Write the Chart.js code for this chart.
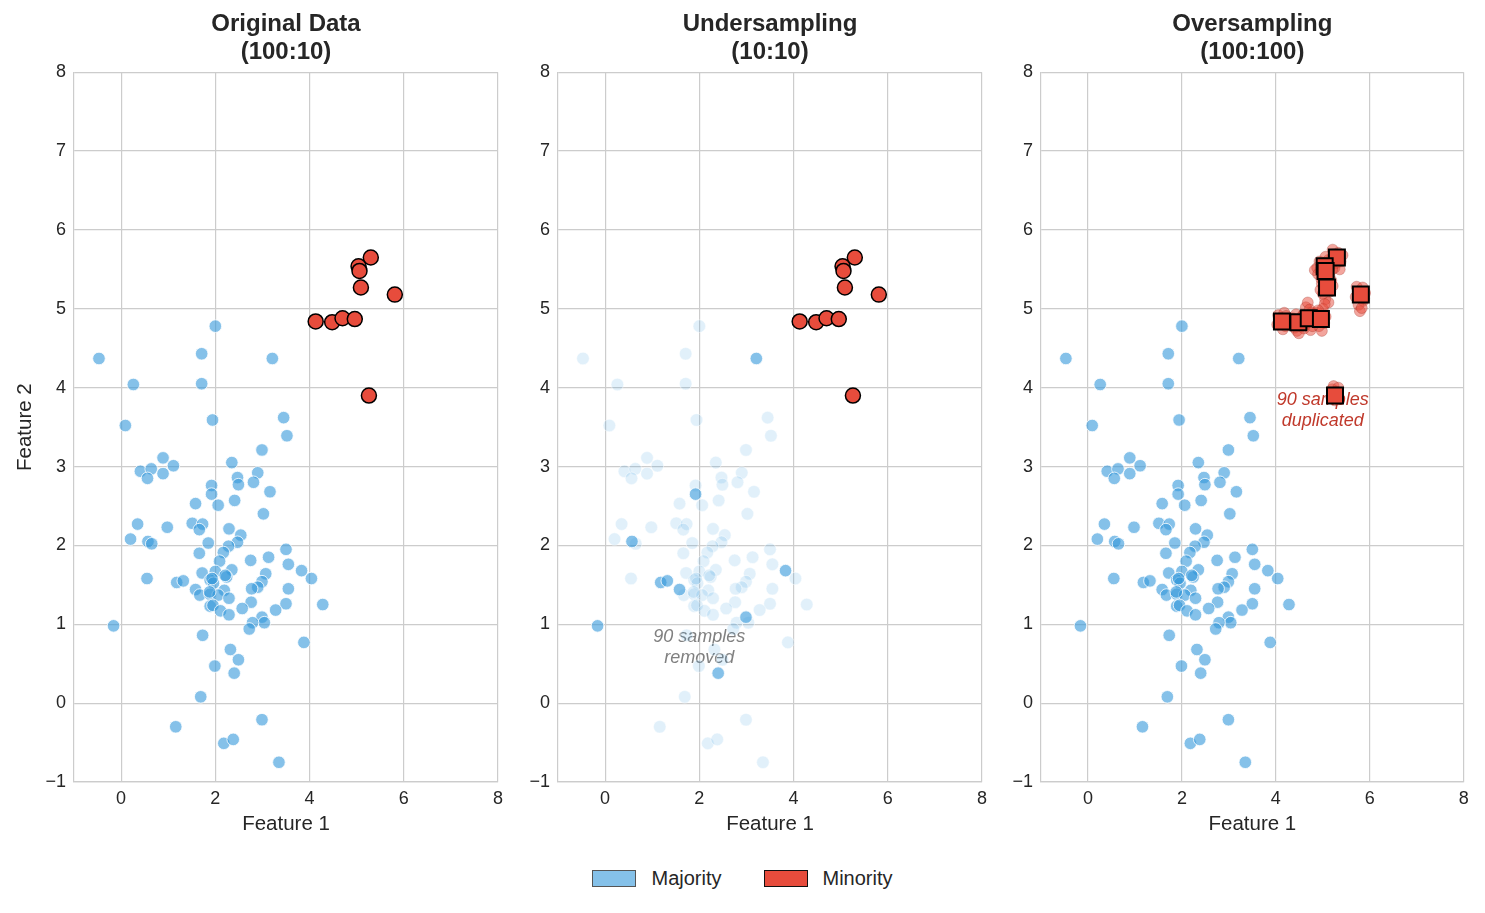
<!DOCTYPE html>
<html lang="en">
<head>
<meta charset="UTF-8">
<title>Original vs Undersampling vs Oversampling</title>
<script src="https://cdn.jsdelivr.net/npm/chart.js"></script>
<style>
  body { margin: 0; background: #fff; font-family: "Liberation Sans", Arial, sans-serif; }
  .panel { position: absolute; top: 0; width: 510px; height: 842px; }
  #legend { position: absolute; top: 867px; left: 0; width: 1485px; display: flex; justify-content: center; align-items: center; font-size: 20px; color: #262626; }
  .item { display: flex; align-items: center; margin: 0 21px; }
  .patch { width: 42px; height: 15px; margin-right: 15px; }
</style>
</head>
<body>
  <div class="panel" style="left:0px"><canvas id="c1"></canvas></div>
  <div class="panel" style="left:484px"><canvas id="c2"></canvas></div>
  <div class="panel" style="left:967px"><canvas id="c3"></canvas></div>
  <div id="legend">
    <div class="item"><div class="patch" style="background:#85c1e9;border:1.5px solid #555"></div>Majority</div>
    <div class="item"><div class="patch" style="background:#e74c3c;border:1.5px solid #111"></div>Minority</div>
  </div>

<script>
const xTicks = [0, 2, 4, 6, 8];
const yTicks = [-1, 0, 1, 2, 3, 4, 5, 6, 7, 8];

// majority class (100 points)
const majX = [-0.47, 2.00, 1.71, 3.21, 0.26, 1.71, 0.09, 1.94, 3.45, 3.52,
  2.99, 0.89, 1.11, 0.41, 0.64, 0.56, 0.89, 2.35, 2.90, 2.47,
  2.49, 2.81, 1.92, 1.92, 3.16, 1.58, 2.06, 2.41, 3.02, 0.35,
  0.98, 1.51, 1.73, 1.66, 2.29, 2.54, 2.47, 0.20, 0.57, 0.65,
  1.85, 2.28, 2.17, 1.66, 3.50, 2.09, 2.75, 3.13, 3.55, 1.72,
  2.00, 2.35, 2.24, 3.07, 0.55, 1.18, 1.32, 1.89, 1.96, 2.99,
  2.90, 2.77, 3.55, 1.58, 2.19, 1.67, 1.89, 2.06, 2.29, 2.76,
  3.50, 1.89, 1.95, 2.11, 2.29, 2.57, 3.28, 2.99, 3.04, 2.79,
  2.72, -0.16, 1.73, 2.32, 2.49, 1.99, 2.40, 1.69, 1.16, 2.99,
  2.18, 2.38, 3.35, 3.83, 4.04, 4.28, 3.88, 1.93, 2.21, 1.88];
const majY = [4.37, 4.78, 4.43, 4.37, 4.04, 4.05, 3.52, 3.59, 3.62, 3.39,
  3.21, 3.11, 3.01, 2.94, 2.97, 2.85, 2.91, 3.05, 2.92, 2.86,
  2.77, 2.80, 2.76, 2.65, 2.68, 2.53, 2.51, 2.57, 2.40, 2.27,
  2.23, 2.28, 2.27, 2.20, 2.21, 2.13, 2.04, 2.08, 2.05, 2.02,
  2.03, 1.99, 1.91, 1.90, 1.95, 1.80, 1.81, 1.85, 1.76, 1.65,
  1.67, 1.69, 1.60, 1.64, 1.58, 1.53, 1.55, 1.56, 1.52, 1.54,
  1.47, 1.45, 1.45, 1.44, 1.43, 1.37, 1.38, 1.37, 1.33, 1.28,
  1.26, 1.23, 1.24, 1.17, 1.12, 1.20, 1.18, 1.09, 1.02, 1.02,
  0.94, 0.98, 0.86, 0.68, 0.55, 0.47, 0.38, 0.08, -0.30, -0.21,
  -0.51, -0.46, -0.75, 1.68, 1.58, 1.25, 0.77, 1.58, 1.62, 1.41];

// minority class (10 points)
const minX = [5.30, 5.04, 5.06, 5.09, 5.81, 4.13, 4.48, 4.70, 4.96, 5.26];
const minY = [5.65, 5.54, 5.48, 5.27, 5.18, 4.84, 4.83, 4.88, 4.87, 3.90];

// majority points kept by undersampling (indices into majX / majY)
const keptIdx = [3, 23, 38, 55, 56, 63, 77, 81, 86, 93];

// duplicated minority points shown in the oversampling panel (90)
const dupX = [5.21, 5.38, 5.25, 5.33, 5.19, 5.42, 5.28, 5.36, 5.23,
  4.93, 5.10, 4.98, 5.12, 4.88, 5.06, 4.95, 5.15, 5.01,
  4.97, 5.14, 4.83, 5.02, 5.18, 4.90, 5.09, 5.20, 4.99,
  5.00, 5.16, 4.98, 5.13, 5.05, 5.21, 5.02, 5.12, 4.95,
  5.72, 5.86, 5.76, 5.90, 5.79, 5.85, 5.70, 5.83, 5.88,
  4.05, 4.20, 4.10, 4.18, 4.03, 4.15, 4.25, 4.08, 4.22,
  4.40, 4.55, 4.45, 4.52, 4.36, 4.60, 4.43, 4.57, 4.49,
  4.64, 4.76, 4.62, 4.74, 4.68, 4.80, 4.58, 4.72, 4.78,
  4.88, 5.03, 4.92, 5.00, 5.06, 4.85, 4.98, 5.04, 4.90,
  5.20, 5.31, 5.23, 5.29, 5.18, 5.33, 5.25, 5.22, 5.30];
const dupY = [5.75, 5.60, 5.52, 5.71, 5.63, 5.68, 5.58, 5.50, 5.69,
  5.60, 5.47, 5.45, 5.62, 5.52, 5.66, 5.50, 5.55, 5.41,
  5.38, 5.42, 5.49, 5.58, 5.36, 5.44, 5.33, 5.50, 5.53,
  5.19, 5.22, 5.32, 5.35, 5.12, 5.29, 5.40, 5.08, 5.24,
  5.28, 5.10, 5.05, 5.20, 4.97, 5.27, 5.15, 5.01, 5.13,
  4.92, 4.78, 4.88, 4.95, 4.80, 4.74, 4.87, 4.85, 4.91,
  4.76, 4.90, 4.72, 4.80, 4.88, 4.75, 4.93, 4.85, 4.69,
  5.02, 4.95, 4.80, 4.73, 5.08, 4.86, 4.92, 4.99, 4.78,
  4.95, 4.82, 4.78, 5.00, 4.90, 4.86, 4.72, 5.06, 4.98,
  3.98, 3.85, 4.02, 3.95, 3.88, 4.00, 3.84, 3.93, 3.91];

const FONT = '"Liberation Sans", Arial, sans-serif';
const TXT = '#262626';
const pts = (xs, ys) => xs.map((x, i) => ({ x, y: ys[i] }));

const majority = pts(majX, majY);
const minority = pts(minX, minY);
const kept = majority.filter((p, i) => keptIdx.includes(i));
const removed = majority.filter((p, i) => !keptIdx.includes(i));
const dups = pts(dupX, dupY);

const majStyle = { backgroundColor: 'rgba(52,152,219,0.6)', borderColor: '#ffffff', borderWidth: 0.8, pointRadius: 6.3 };
const minStyle = { backgroundColor: '#e74c3c', borderColor: '#000000', borderWidth: 1.5, pointRadius: 7.5 };

const tickFmt = v => v < 0 ? '\u2212' + Math.abs(v) : String(v);

function makeScales(yTitle) {
  return {
    x: {
      type: 'linear', min: -1, max: 8,
      afterBuildTicks: s => { s.ticks = xTicks.map(v => ({ value: v })); },
      afterFit: s => { s.height = 60; },
      grid: { color: '#cccccc', lineWidth: 1.2, drawTicks: false },
      border: { color: '#cccccc', width: 1.2 },
      ticks: { color: TXT, font: { family: FONT, size: 18 }, padding: 6, callback: tickFmt, maxRotation: 0 },
      title: { display: true, text: 'Feature 1', color: TXT, font: { family: FONT, size: 20.5 }, padding: { top: 0, bottom: 5 } }
    },
    y: {
      type: 'linear', min: -1, max: 8,
      afterBuildTicks: s => { s.ticks = yTicks.map(v => ({ value: v })); },
      afterFit: s => { s.width = 74; },
      grid: { color: '#cccccc', lineWidth: 1.2, drawTicks: false },
      border: { color: '#cccccc', width: 1.2 },
      ticks: { color: TXT, font: { family: FONT, size: 18 }, padding: 8, callback: tickFmt },
      title: { display: !!yTitle, text: yTitle || '', color: TXT, font: { family: FONT, size: 20.5 }, padding: { top: 13, bottom: 0 } }
    }
  };
}

// italic note drawn under the marks
const notePlugin = {
  id: 'note',
  beforeDatasetsDraw(chart, args, opts) {
    if (!opts.lines) return;
    const { ctx, scales: { x, y } } = chart;
    ctx.save();
    ctx.font = 'italic 18px ' + FONT;
    ctx.fillStyle = opts.color;
    ctx.textAlign = 'center';
    ctx.textBaseline = 'middle';
    const px = x.getPixelForValue(opts.x), py = y.getPixelForValue(opts.y);
    opts.lines.forEach((t, i) => ctx.fillText(t, px, py + i * 21));
    ctx.restore();
  }
};

function makeChart(id, title, datasets, yTitle, note) {
  return new Chart(document.getElementById(id), {
    type: 'scatter',
    data: { datasets },
    options: {
      responsive: true, maintainAspectRatio: false, animation: false, events: [],
      layout: { padding: { left: 0, right: 12, top: 0, bottom: 0 } },
      scales: makeScales(yTitle),
      plugins: {
        legend: { display: false },
        tooltip: { enabled: false },
        title: { display: true, text: title, fullSize: false, color: TXT,
                 font: { family: FONT, size: 24, weight: 'bold', lineHeight: 1.15 }, padding: { top: 11, bottom: 6 } },
        note: note || {}
      }
    },
    plugins: [notePlugin]
  });
}

// datasets listed first are drawn on top
makeChart('c1', ['Original Data', '(100:10)'], [
  { data: minority, ...minStyle },
  { data: majority, ...majStyle }
], 'Feature 2');

makeChart('c2', ['Undersampling', '(10:10)'], [
  { data: minority, ...minStyle },
  { data: kept, ...majStyle },
  { data: removed, backgroundColor: 'rgba(52,152,219,0.15)', borderColor: 'rgba(255,255,255,0.6)', borderWidth: 0.8, pointRadius: 6.3 }
], null, { x: 2.0, y: 0.84, lines: ['90 samples', 'removed'], color: '#808080' });

makeChart('c3', ['Oversampling', '(100:100)'], [
  { data: minority, backgroundColor: '#e74c3c', borderColor: '#000000', borderWidth: 2, pointRadius: 11.3, pointStyle: 'rect' },
  { data: dups, backgroundColor: 'rgba(231,76,60,0.5)', borderColor: 'rgba(150,40,30,0.35)', borderWidth: 0.8, pointRadius: 5.5 },
  { data: majority, ...majStyle }
], null, { x: 5.0, y: 3.84, lines: ['90 samples', 'duplicated'], color: '#c0392b' });
</script>
</body>
</html>
